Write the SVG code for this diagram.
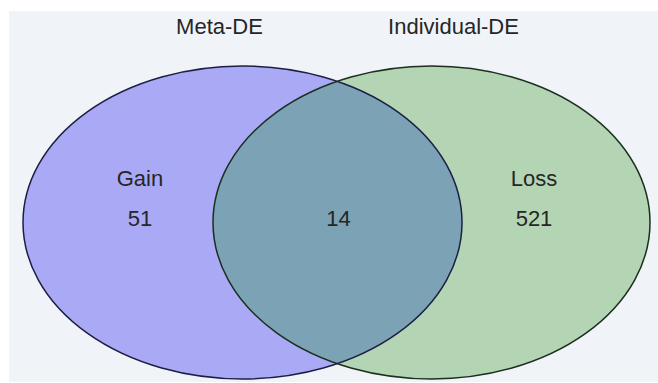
<svg xmlns="http://www.w3.org/2000/svg" width="658" height="383" viewBox="0 0 658 383">
<style>
.lbl{font-family:"Liberation Sans",Arial,sans-serif;font-size:22px;fill:#262626;text-anchor:middle}
.edge{fill:none;stroke-width:1.5}
</style>
<defs>
<clipPath id="clipA"><ellipse cx="242.5" cy="222.5" rx="219.5" ry="156.5"/></clipPath>
</defs>
<rect x="9" y="11" width="649" height="371" fill="#f0f3f7"/>
<g id="meta-de">
<ellipse cx="242.5" cy="222.5" rx="219.5" ry="156.5" fill="#a9a9f5"/>
</g>
<g id="individual-de">
<ellipse cx="431.5" cy="222.5" rx="218.5" ry="156.5" fill="#b3d5b4"/>
</g>
<g id="overlap">
<ellipse cx="431.5" cy="222.5" rx="218.5" ry="156.5" fill="#7ba2b5" clip-path="url(#clipA)"/>
</g>
<g id="connectors">
<ellipse class="edge" cx="242.5" cy="222.5" rx="219.5" ry="156.5" stroke="#1e1e44"/>
<ellipse class="edge" cx="431.5" cy="222.5" rx="218.5" ry="156.5" stroke="#1c2e1e"/>
</g>
<g id="labels">
<text class="lbl" x="219.5" y="34">Meta-DE</text>
<text class="lbl" x="453.5" y="34">Individual-DE</text>
<text class="lbl" x="140" y="186">Gain</text>
<text class="lbl" x="140" y="226">51</text>
<text class="lbl" x="338.5" y="226">14</text>
<text class="lbl" x="534" y="186">Loss</text>
<text class="lbl" x="534" y="226">521</text>
</g>
</svg>
